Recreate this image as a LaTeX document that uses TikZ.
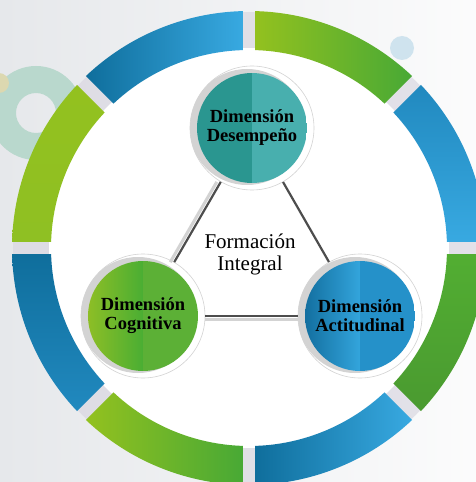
\documentclass[tikz,border=0pt]{standalone}
\usepackage{fontspec}
\setmainfont{Liberation Serif}
\usetikzlibrary{calc}
\definecolor{bggray}{HTML}{E6E8EB}
\definecolor{gapgray}{HTML}{D9D7E1}
\definecolor{decoring}{HTML}{B9D8CD}
\definecolor{decodot}{HTML}{CFE3EE}
\definecolor{decoyel}{HTML}{DCD8B0}
\definecolor{bluedk}{HTML}{0F6E9C}
\definecolor{bluemd}{HTML}{2189BF}
\definecolor{bluelt}{HTML}{38A9E1}
\definecolor{greenlt}{HTML}{93C11F}
\definecolor{greenlt2}{HTML}{8FC023}
\definecolor{greendk}{HTML}{48A935}
\definecolor{greenmd}{HTML}{52AE32}
\definecolor{greendk2}{HTML}{4A9A30}
\definecolor{tealdk}{HTML}{2A9690}
\definecolor{teallt}{HTML}{48AFAE}
\definecolor{cogleft}{HTML}{8DBE26}
\definecolor{cogmid}{HTML}{4AAE33}
\definecolor{cogright}{HTML}{5CB036}
\definecolor{actleft}{HTML}{136FA0}
\definecolor{actmid}{HTML}{33A5DC}
\definecolor{actright}{HTML}{2591C9}
\definecolor{halogray}{HTML}{D3D3D3}
\definecolor{linkgray}{HTML}{4D4D4D}
\tikzset{every picture/.style={x=1pt, y=1pt, every picture/.style={}}}
\tikzset{
  dimnode/.style n args={3}{circle, minimum size=124pt, inner sep=0pt,
    fill=white, draw=halogray, line width=0.6pt, align=center,
    font=\fontsize{18.5}{19}\selectfont\bfseries,
    path picture={
      \coordinate (pc) at (path picture bounding box.center);
      \fill[halogray] ($(pc)+(-5,1)$) circle (58);
      \begin{scope}
        \clip (pc) circle (55);
        \shade[left color=#1, right color=#2] ($(pc)+(-55,-55)$) rectangle ($(pc)+(0,55)$);
        \fill[#3] ($(pc)+(0,-55)$) rectangle ($(pc)+(55,55)$);
      \end{scope}
    }},
  link/.style={draw=linkgray, line width=2.2pt},
  linkshadow/.style={draw=halogray, line width=3pt},
  midtext/.style={align=center, font=\fontsize{21}{22}\selectfont}
}
\newcommand\ringseg[3]{\shade[#3] (#1+1.5:237) arc[start angle=#1+1.5, end angle=#2-1.5, radius=237] -- (#2-1.8:198) arc[start angle=#2-1.8, end angle=#1+1.8, radius=198] -- cycle;}

\begin{document}
\begin{tikzpicture}
      \clip (-249,-234) rectangle (227,248);
      % Background and decorations
      \shade[left color=bggray, right color=white!85!bggray] (-249,-234) rectangle (227,248);
      \fill[decoring, even odd rule] (-213,135) circle (47) (-213,135) circle (20);
      \fill[decoyel] (-250,165) circle (10);
      \fill[decodot] (153,200) circle (12);
      \fill[gapgray, opacity=0.7] (0,0) circle (236);
      \fill[white] (0,0) circle (200);

      % Ring segments
      \ringseg{90}{135}{left color=bluedk, right color=bluelt}
      \ringseg{45}{90}{left color=greenlt, right color=greendk}
      \ringseg{0}{45}{top color=bluemd, bottom color=bluelt}
      \ringseg{-45}{0}{top color=greenmd, bottom color=greendk2}
      \ringseg{-90}{-45}{left color=bluedk, right color=bluelt}
      \ringseg{-135}{-90}{left color=greenlt, right color=greendk}
      \ringseg{180}{225}{top color=bluedk, bottom color=bluemd}
      \ringseg{135}{180}{top color=greenlt, bottom color=greenlt2}

      % Dimension circles
      \node[dimnode={tealdk}{tealdk}{teallt}] (desem) at (3,120) {Dimensión\\Desempeño};
      \node[dimnode={cogleft}{cogmid}{cogright}] (cogn) at (-106,-68) {Dimensión\\Cognitiva};
      \node[dimnode={actleft}{actmid}{actright}] (actit) at (111,-68) {Dimensión\\Actitudinal};
      \node[midtext] (form) at (1,-6) {Formación\\Integral};

      % Links
      \draw[linkshadow, transform canvas={xshift=-4pt}] (desem) -- (cogn);
      \draw[linkshadow, transform canvas={yshift=-3pt}] (cogn) -- (actit);
      \draw[link] (desem) -- (cogn);
      \draw[link] (desem) -- (actit);
      \draw[link] (cogn) -- (actit);
    \end{tikzpicture}
\end{document}
